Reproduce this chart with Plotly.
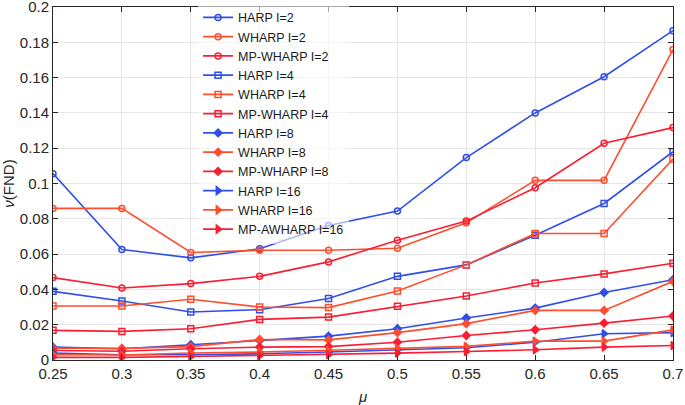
import plotly.graph_objects as go

mu = [0.25, 0.3, 0.35, 0.4, 0.45, 0.5, 0.55, 0.6, 0.65, 0.7]

harp_2 = [0.1056, 0.0626, 0.0579, 0.0630, 0.0762, 0.0844, 0.1147, 0.1400, 0.1605, 0.1866]
wharp_2 = [0.0859, 0.0859, 0.0609, 0.0622, 0.0622, 0.0633, 0.0777, 0.1018, 0.1018, 0.1759]
mpwharp_2 = [0.0467, 0.0408, 0.0433, 0.0474, 0.0556, 0.0679, 0.0787, 0.0976, 0.1228, 0.1317]
harp_4 = [0.0389, 0.0334, 0.0272, 0.0285, 0.0348, 0.0474, 0.0539, 0.0707, 0.0887, 0.1180]
wharp_4 = [0.0306, 0.0306, 0.0344, 0.0300, 0.0297, 0.0391, 0.0539, 0.0717, 0.0717, 0.1139]
mpwharp_4 = [0.0168, 0.0162, 0.0177, 0.0230, 0.0243, 0.0304, 0.0363, 0.0436, 0.0488, 0.0548]
harp_8 = [0.0073, 0.0064, 0.0086, 0.0110, 0.0135, 0.0177, 0.0238, 0.0294, 0.0382, 0.0455]
wharp_8 = [0.0067, 0.0066, 0.0076, 0.0116, 0.0114, 0.0155, 0.0206, 0.0281, 0.0281, 0.0446]
mpwharp_8 = [0.0054, 0.0050, 0.0064, 0.0073, 0.0076, 0.0101, 0.0139, 0.0171, 0.0209, 0.0249]
harp_16 = [0.0040, 0.0030, 0.0030, 0.0035, 0.0045, 0.0058, 0.0069, 0.0101, 0.0149, 0.0155]
wharp_16 = [0.0030, 0.0028, 0.0040, 0.0045, 0.0055, 0.0067, 0.0077, 0.0107, 0.0107, 0.0171]
mpawharp_16 = [0.0015, 0.0015, 0.0020, 0.0025, 0.0030, 0.0039, 0.0048, 0.0058, 0.0073, 0.0082]

names = ["HARP I=2", "WHARP I=2", "MP-WHARP I=2",
         "HARP I=4", "WHARP I=4", "MP-WHARP I=4",
         "HARP I=8", "WHARP I=8", "MP-WHARP I=8",
         "HARP I=16", "WHARP I=16", "MP-AWHARP I=16"]
series = [harp_2, wharp_2, mpwharp_2, harp_4, wharp_4, mpwharp_4,
          harp_8, wharp_8, mpwharp_8, harp_16, wharp_16, mpawharp_16]

x_ticktext = ["0.25", "0.3", "0.35", "0.4", "0.45", "0.5", "0.55", "0.6", "0.65", "0.7"]
y_tickvals = [0, 0.02, 0.04, 0.06, 0.08, 0.1, 0.12, 0.14, 0.16, 0.18, 0.2]
y_ticktext = ["0", "0.02", "0.04", "0.06", "0.08", "0.1", "0.12", "0.14", "0.16", "0.18", "0.2"]

BLUE = "#2E4FEA"
ORANGE = "#FF4E2E"
RED = "#FA1E32"
colors = [BLUE, ORANGE, RED] * 4
symbols = ["circle-open"] * 3 + ["square-open"] * 3 + ["diamond"] * 3 + ["triangle-right"] * 3
sizes = [6] * 3 + [6] * 3 + [6] * 3 + [7] * 3

fig = go.Figure()
for name, ys, c, s, sz in zip(names, series, colors, symbols, sizes):
    fig.add_trace(go.Scatter(
        x=mu, y=ys, name=name, mode="lines+markers",
        line=dict(color=c, width=1.6),
        marker=dict(symbol=s, size=sz, color=c, line=dict(color=c, width=1.5)),
    ))

axis_common = dict(
    showline=True, linecolor="#262626", linewidth=1, mirror="ticks",
    ticks="inside", ticklen=5, tickcolor="#262626",
    showgrid=True, gridcolor="#E6E6E6", gridwidth=1, zeroline=False,
    automargin=False, ticklabeloverflow="allow",
    tickfont=dict(family="Liberation Sans, Arial", size=15, color="#262626"),
)

fig.update_layout(
    width=685, height=405,
    margin=dict(l=53, r=12, t=7, b=45, autoexpand=False),
    paper_bgcolor="white", plot_bgcolor="white",
    font=dict(family="Liberation Sans, Arial", color="#262626"),
    xaxis=dict(range=[0.25, 0.70002], tickvals=mu, ticktext=x_ticktext,
               title=dict(text="<i>μ</i>", font=dict(size=15)),
               **axis_common),
    yaxis=dict(range=[0, 0.20002], tickvals=y_tickvals, ticktext=y_ticktext,
               title=dict(text="<i>ν</i>(FND)", font=dict(size=15)),
               **axis_common),
    legend=dict(x=0.234, y=1.012, xanchor="left", yanchor="top",
                bgcolor="rgba(255,255,255,0.6)", borderwidth=0, maxheight=400,
                font=dict(family="Liberation Sans, Arial", size=12.5, color="#1a1a1a"),
                tracegroupgap=0, itemwidth=30),
    showlegend=True,
)

fig.write_html("out.html", config={"displayModeBar": False},
               post_script="document.body.style.margin='0px';")
